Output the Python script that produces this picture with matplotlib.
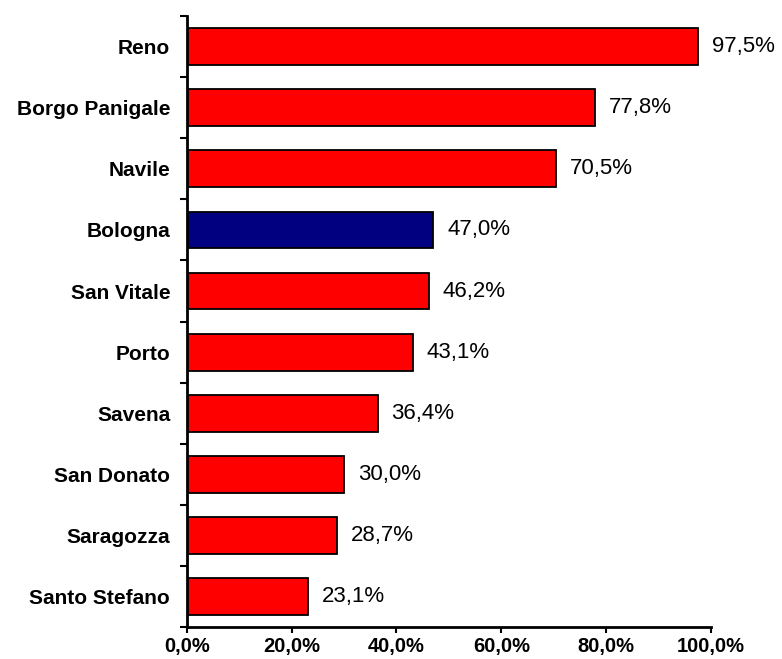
import matplotlib.pyplot as plt
from matplotlib.ticker import FuncFormatter

# Dati (percentuali)
quartieri = ["Reno", "Borgo Panigale", "Navile", "Bologna", "San Vitale",
             "Porto", "Savena", "San Donato", "Saragozza", "Santo Stefano"]
valori = [97.5, 77.8, 70.5, 47.0, 46.2, 43.1, 36.4, 30.0, 28.7, 23.1]

plt.rcParams['font.family'] = ['Liberation Sans', 'DejaVu Sans']

fig = plt.figure(figsize=(7.82, 6.59), dpi=100)
ax = fig.add_axes([0.239, 0.048, 0.670, 0.928])

colori = ["#000080" if q == "Bologna" else "#FF0000" for q in quartieri]
pos = list(range(len(quartieri)))[::-1]
ax.barh(pos, valori, height=0.6, color=colori, edgecolor="black", linewidth=1.3)

for p, v in zip(pos, valori):
    ax.annotate(f"{v:.1f}%".replace(".", ","), (v, p), xytext=(10, 0),
                textcoords="offset points", va="center", ha="left", fontsize=16)

ax.set_xlim(0, 100)
ax.set_ylim(-0.5, len(quartieri) - 0.5)
ax.set_xticks(range(0, 101, 20))
ax.xaxis.set_major_formatter(FuncFormatter(lambda x, _: f"{x:.1f}%".replace(".", ",")))
ax.set_yticks(pos)
ax.set_yticklabels(quartieri, fontweight="bold", fontsize=15)
ax.set_yticks([i - 0.5 for i in range(len(quartieri) + 1)], minor=True)
ax.tick_params(axis="y", which="major", length=0, pad=12)
ax.tick_params(axis="y", which="minor", length=5, width=1.5)
ax.tick_params(axis="x", length=4, width=1.5, labelsize=14.5, pad=3)
for lab in ax.get_xticklabels():
    lab.set_fontweight("bold")

for s in ["top", "right"]:
    ax.spines[s].set_visible(False)
ax.spines["left"].set_linewidth(2)
ax.spines["bottom"].set_linewidth(2)

plt.savefig("out.png", dpi=100)
